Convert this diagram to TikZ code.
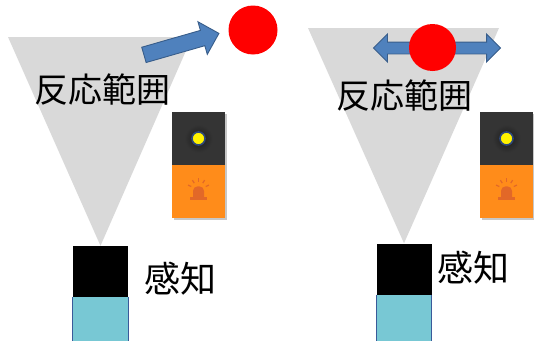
\documentclass[tikz,border=0pt]{standalone}
\usepackage{fontspec}
\newfontfamily\jp{Noto Sans CJK JP}
\usetikzlibrary{positioning,shapes.arrows,calc}
\definecolor{hanigray}{RGB}{217,217,217}
\definecolor{okblue}{RGB}{79,129,189}
\definecolor{okblueD}{RGB}{56,93,138}
\definecolor{mizu}{RGB}{120,200,212}
\definecolor{mizuD}{RGB}{58,90,154}
\definecolor{dai}{RGB}{255,140,26}
\definecolor{daiD}{RGB}{226,104,40}
\definecolor{kuro}{RGB}{52,52,52}
\tikzset{
  hani/.style={fill=hanigray},
  sens/.style={rectangle,fill=black,minimum width=55pt,minimum height=51pt,inner sep=0pt},
  karada/.style={rectangle,fill=mizu,minimum width=55pt,minimum height=50pt,inner sep=0pt},
  heri/.style={mizuD,line width=1.3pt},
  lbl/.style={inner sep=0pt,font=\jp\fontsize{34}{40}\selectfont},
  lblS/.style={inner sep=0pt,font=\jp\fontsize{36}{40}\selectfont},
  tama/.style={circle,fill=red,inner sep=0pt},
  ya/.style={single arrow,fill=okblue,draw=okblueD,line width=0.9pt,inner xsep=0pt,inner ysep=7.5pt,
    single arrow head extend=9pt,minimum height=78pt},
  yaW/.style={double arrow,fill=okblue,draw=okblueD,line width=0.9pt,inner xsep=0pt,inner ysep=5.5pt,
    double arrow head extend=8pt,minimum height=127pt},
  dUe/.style={rectangle,fill=kuro,minimum width=53pt,minimum height=53pt,inner sep=0pt},
  dShita/.style={rectangle,fill=dai,minimum width=53pt,minimum height=53pt,inner sep=0pt},
  kage/.style={fill=black!22},
  hikari/.style={circle,fill=yellow,draw=mizuD!80!black,line width=1.6pt,minimum size=13pt,inner sep=0pt},
  hane/.style={daiD,line width=1.2pt},
}

\begin{document}
\begin{tikzpicture}[x=1pt,y=-1pt]
  \useasboundingbox (0,0) rectangle (534,340);
  % sensors
  \node[sens] (sL) at (100.5,271.5) {};
  \node[karada,below=0pt of sL] (kL) {};
  \node[sens] (sR) at (404,269) {};
  \node[karada,below=0pt of sR] (kR) {};
  % detection ranges
  \fill[hani] (8,37) -- (192,37) -- (sL.north) -- cycle;
  \fill[hani] (308,28) -- (499,28) -- (sR.north) -- cycle;
  \draw[heri] (kL.north west) -- (kL.south west) (kL.north east) -- (kL.south east);
  \draw[heri] (kR.north west) -- (kR.south west) (kR.north east) -- (kR.south east);
  \node[lbl] (hL) at (102,90) {反応範囲};
  \node[lbl] (hR) at (404.5,96) {反応範囲};
  \node[lblS,right=16pt of sL,yshift=-7pt] (tL) {感知};
  \node[lblS,right=6pt of sR,yshift=1pt] (tR) {感知};
  % moving object
  \node[ya,rotate=16,anchor=tail] (aL) at (143.5,55) {};
  \node[tama,minimum size=49pt] (bL) at (253,30) {};
  \node[yaW] (aR) at (437,48) {};
  \node[tama,minimum size=47pt] (bR) at (432.5,47.5) {};
  % indicator blocks
  \foreach \nm/\cx in {L/198.5,R/506.5}{
    \fill[kage] (\cx-24.5,114) rectangle (\cx+28.5,220);
    \node[dUe] (u\nm) at (\cx,138.5) {};
    \node[dShita,below=0pt of u\nm] (d\nm) {};
    \shade[inner color=black!90,outer color=kuro] (u\nm.center) circle (14);
    \node[hikari] (l\nm) at (u\nm.center) {};
    \begin{scope}[shift={(d\nm.center)}]
      \fill[daiD] (-5.5,6) [rounded corners=4.5pt] -- (-5.5,-5.5) -- (5.5,-5.5) [sharp corners] -- (5.5,6) -- cycle;
      \fill[daiD] (-8.5,5.5) rectangle (8.5,8.5);
      \foreach \a in {-155,-122,-90,-58,-25}
        \draw[hane] ($(0,-2)+(\a:8)$) -- ($(0,-2)+(\a:11.5)$);
    \end{scope}
  }
\end{tikzpicture}
\end{document}
